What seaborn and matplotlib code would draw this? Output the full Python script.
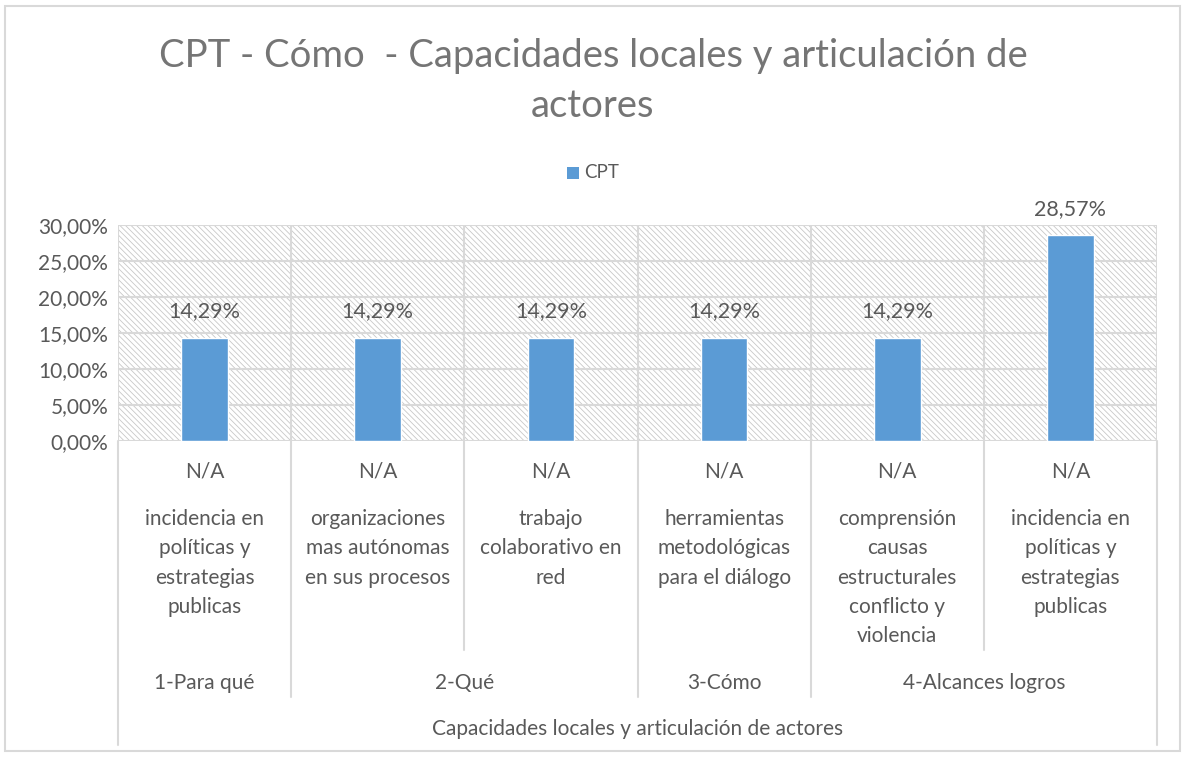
import matplotlib
matplotlib.use("Agg")
import matplotlib.pyplot as plt
import matplotlib.transforms as mtransforms
from matplotlib.patches import Rectangle
from matplotlib.lines import Line2D
import seaborn as sns
import pandas as pd

# ---- data ----
categories = [
    "incidencia en\npolíticas y\nestrategias\npublicas",
    "organizaciones\nmas autónomas\nen sus procesos",
    "trabajo\ncolaborativo en\nred",
    "herramientas\nmetodológicas\npara el diálogo",
    "comprensión\ncausas\nestructurales\nconflicto y\nviolencia",
    "incidencia en\npolíticas y\nestrategias\npublicas",
]
sublabels = ["N/A", "N/A", "N/A", "N/A", "N/A", "N/A"]
groups = ["1-Para qué", "2-Qué", "3-Cómo", "4-Alcances logros"]
group_sizes = [1, 2, 1, 2]
top_label = "Capacidades locales y articulación de actores"
values = [0.1429, 0.1429, 0.1429, 0.1429, 0.1429, 0.2857]
series_name = "CPT"
title = "CPT - Cómo  - Capacidades locales y articulación de\nactores"
yticks = [0.0, 0.05, 0.10, 0.15, 0.20, 0.25, 0.30]

sns.set_style("white")
plt.rcParams['font.family'] = ['Lato', 'DejaVu Sans']
plt.rcParams['hatch.linewidth'] = 0.6
plt.rcParams['hatch.color'] = '#C8C8C8'

TXT = '#595959'
GRID = '#D9D9D9'
BAR = '#5B9BD5'
FS = 15

W, H = 1185, 757
fig = plt.figure(figsize=(W / 100, H / 100), dpi=100)
fig.patch.set_facecolor('white')

# outer frame
fig.add_artist(Rectangle((5 / W, 6 / H), 1175 / W, 745 / H, transform=fig.transFigure,
                         fill=False, edgecolor=GRID, linewidth=1.5))

x0, x1, ytop, ybot = 118, 1157, 225, 441
ax = fig.add_axes([x0 / W, 1 - ybot / H, (x1 - x0) / W, (ybot - ytop) / H])

df = pd.DataFrame({"pos": list(range(len(values))), "value": values})
df["series"] = series_name
sns.barplot(data=df, x="pos", y="value", hue="series", palette=[BAR], width=0.27,
            ax=ax, zorder=3, legend=False, saturation=1)

n = len(values)
ax.set_xlim(-0.5, n - 0.5)
ax.set_ylim(0, 0.30)

# hatched plot-area background
bg = Rectangle((0, 0), 1, 1, transform=ax.transAxes, facecolor='white',
               edgecolor='#C8C8C8', hatch='\\\\\\\\\\\\', linewidth=0, zorder=0)
ax.add_patch(bg)

for s in ax.spines.values():
    s.set_visible(False)

ax.set_yticks(yticks)
ax.set_yticklabels([f"{v*100:.2f}%".replace('.', ',') for v in yticks],
                   fontsize=FS, color=TXT)
ax.tick_params(axis='y', length=0, pad=7)
ax.set_xticks([])
ax.set_xlabel("")
ax.set_ylabel("")

# gridlines
for yv in yticks:
    ax.axhline(yv, color=GRID, linewidth=1.5, zorder=1)
for i in range(n + 1):
    ax.axvline(i - 0.5, color=GRID, linewidth=1.5, zorder=1)

# data labels
for i, v in enumerate(values):
    ax.annotate(f"{v*100:.2f}%".replace('.', ','), (i, v), xytext=(0, 12),
                textcoords='offset points', ha='center', va='bottom',
                fontsize=FS + 0.5, color=TXT)

# multi-level category axis
tr = mtransforms.blended_transform_factory(ax.transData, fig.transFigure)
def fy(py):
    return 1 - py / H

for i in range(n):
    ax.text(i, fy(471), sublabels[i], transform=tr, ha='center', va='center',
            fontsize=FS, color=TXT)
    ax.text(i, fy(509), categories[i], transform=tr, ha='center', va='top',
            fontsize=FS, color=TXT, linespacing=1.58)

# separators
group_bounds = [0]
for gs in group_sizes:
    group_bounds.append(group_bounds[-1] + gs)
for b in range(n + 1):
    if b == 0 or b == n:
        yend = 745
    elif b in group_bounds:
        yend = 697
    else:
        yend = 650
    fig.add_artist(Line2D([b - 0.5, b - 0.5], [fy(ybot), fy(yend)], transform=tr,
                          color=GRID, linewidth=1.5))

for g, (lab, start) in enumerate(zip(groups, group_bounds[:-1])):
    cx = start + (group_sizes[g] - 1) / 2
    ax.text(cx, fy(683), lab, transform=tr, ha='center', va='center',
            fontsize=FS, color=TXT)

ax.text((n - 1) / 2, fy(729), top_label, transform=tr, ha='center', va='center',
        fontsize=FS, color=TXT)

# title
fig.text(593 / W, fy(81), title, ha='center', va='center', fontsize=27.5,
         color='#757575', linespacing=1.5)

# legend
fig.add_artist(Rectangle((567 / W, fy(179)), 12 / W, 12 / H, transform=fig.transFigure,
                         facecolor=BAR, edgecolor='none'))
fig.text(584 / W, fy(173), series_name, ha='left', va='center', fontsize=13.5, color=TXT)

fig.savefig("out.png", dpi=100)
